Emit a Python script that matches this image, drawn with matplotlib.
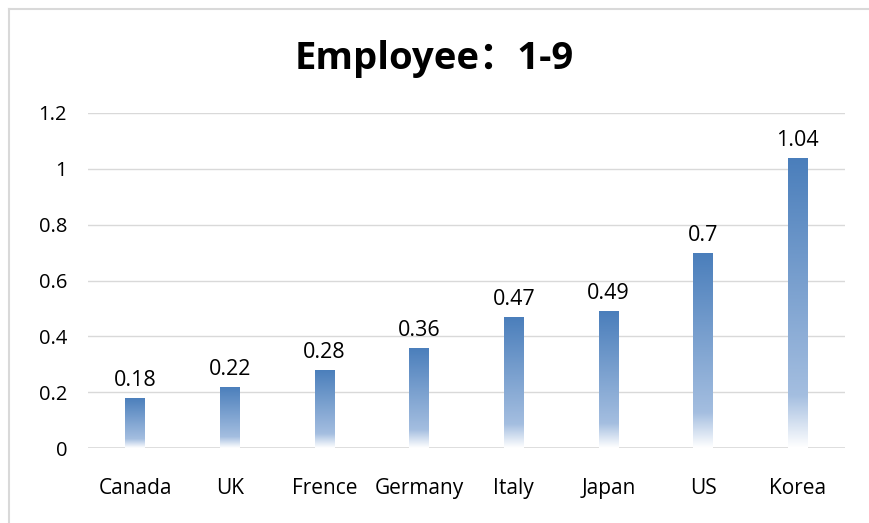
import matplotlib
matplotlib.use("Agg")
import matplotlib.pyplot as plt
import numpy as np
from matplotlib.colors import LinearSegmentedColormap
from matplotlib.lines import Line2D

countries = ["Canada", "UK", "Frence", "Germany", "Italy", "Japan", "US", "Korea"]
values = [0.18, 0.22, 0.28, 0.36, 0.47, 0.49, 0.7, 1.04]
yticks = [0, 0.2, 0.4, 0.6, 0.8, 1, 1.2]
ytick_labels = ["0", "0.2", "0.4", "0.6", "0.8", "1", "1.2"]

plt.rcParams["font.family"] = ["Open Sans", "Noto Sans CJK SC", "DejaVu Sans"]

fig = plt.figure(figsize=(8.69, 5.23), dpi=100)
ax = fig.add_axes([88 / 869, 1 - 448 / 523, 757 / 869, 335 / 523])

# white at the bottom of each bar, fading into blue towards the top
cmap = LinearSegmentedColormap.from_list(
    "fade", [(0.0, "#ffffff"), (0.18, "#a4bee0"), (1.0, "#4a7ebb")])
grad = np.linspace(0, 1, 256).reshape(-1, 1)

x = np.arange(len(countries))
bars = ax.bar(x, values, width=0.21, color="none", edgecolor="none", zorder=3)
for b in bars:
    x0, w, h = b.get_x(), b.get_width(), b.get_height()
    im = ax.imshow(grad, cmap=cmap, origin="lower", aspect="auto",
                   extent=[x0, x0 + w, 0, h], zorder=3)
    im.set_clip_path(b)

for xi, v in zip(x, values):
    ax.annotate(f"{v:g}", (xi, v), xytext=(0, 5), textcoords="offset points",
                ha="center", va="bottom", fontsize=15.5, color="#000000")

ax.set_xlim(-0.5, len(countries) - 0.5)
ax.set_ylim(0, 1.2)
ax.set_yticks(yticks)
ax.set_yticklabels(ytick_labels, fontsize=14.5)
ax.set_xticks(x)
ax.set_xticklabels(countries, fontsize=15)
ax.tick_params(length=0)
ax.tick_params(axis="y", pad=15)
ax.tick_params(axis="x", pad=21.5)
ax.grid(axis="y", color="#d9d9d9", linewidth=1, zorder=0)
for s in ax.spines.values():
    s.set_visible(False)
ax.axhline(0, color="#d9d9d9", linewidth=1.2, zorder=2)

fig.text(0.5, 1 - 59 / 523, "Employee：1-9", ha="center", va="center",
         fontsize=27.5, fontweight="bold")

# light frame along top and left edge
fig.add_artist(Line2D([8.5 / 869, 1], [1 - 8.5 / 523] * 2, color="#d9d9d9",
                      linewidth=1.5, transform=fig.transFigure))
fig.add_artist(Line2D([8.5 / 869] * 2, [0, 1 - 8.5 / 523], color="#d9d9d9",
                      linewidth=1.5, transform=fig.transFigure))

fig.savefig("out.png", dpi=100)
